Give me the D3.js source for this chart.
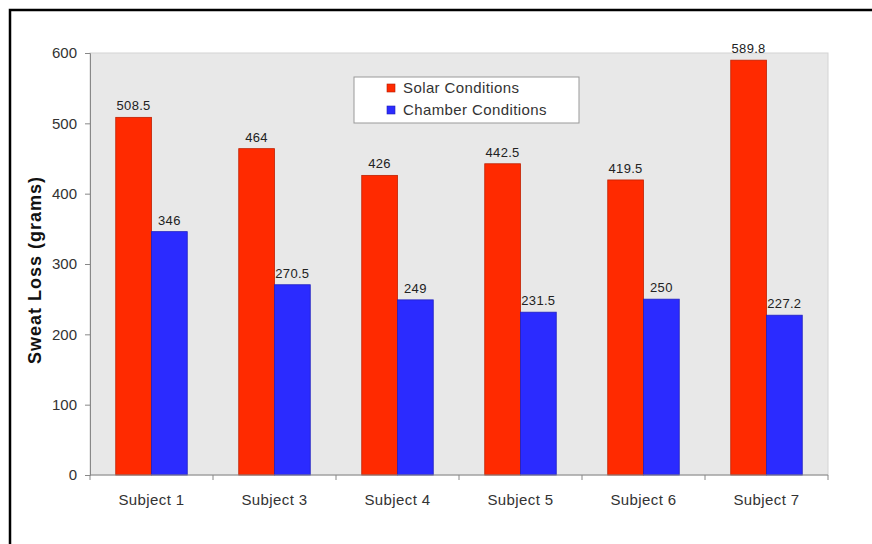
<!DOCTYPE html>
<html>
<head>
<meta charset="utf-8">
<script src="https://cdn.jsdelivr.net/npm/d3@7"></script>
<style>
  html, body { margin: 0; padding: 0; background: #fff; }
  svg { display: block; font-family: "Liberation Sans", Arial, sans-serif; }
</style>
</head>
<body>
<svg id="chart" width="872" height="544"></svg>
<script>
// Sweat loss per subject under two test conditions
const subjects = ["Subject 1", "Subject 3", "Subject 4", "Subject 5", "Subject 6", "Subject 7"];
const solarValues = [508.5, 464, 426, 442.5, 419.5, 589.8];
const chamberValues = [346, 270.5, 249, 231.5, 250, 227.2];
const seriesNames = ["Solar Conditions", "Chamber Conditions"];
const yTicks = [0, 100, 200, 300, 400, 500, 600];

const colors = { "Solar Conditions": "#ff2a00", "Chamber Conditions": "#2b2bff" };

const svg = d3.select("#chart");
const m = { left: 90, top: 53, right: 828, bottom: 475 };

// Outer frame (left and top edges)
svg.append("path")
  .attr("d", "M10,544 L10,10 L872,10")
  .attr("fill", "none").attr("stroke", "#000").attr("stroke-width", 2.5);

const x = d3.scaleBand().domain(subjects).range([m.left, m.right]).paddingInner(0).paddingOuter(0);
const xInner = d3.scaleBand().domain(seriesNames).range([0, x.bandwidth()]).paddingInner(0).paddingOuter(0.72);
const y = d3.scaleLinear().domain([0, 600]).range([m.bottom, m.top]);

// Plot area background
svg.append("rect")
  .attr("x", m.left).attr("y", m.top)
  .attr("width", m.right - m.left).attr("height", m.bottom - m.top)
  .attr("fill", "#e8e8e8").attr("stroke", "#d4d4d4").attr("stroke-width", 1);

// Bars
const data = subjects.map((s, i) => ({ subject: s, values: [
  { name: seriesNames[0], value: solarValues[i] },
  { name: seriesNames[1], value: chamberValues[i] }
]}));

const groups = svg.append("g").selectAll("g").data(data).join("g")
  .attr("transform", d => `translate(${x(d.subject)},0)`);

groups.selectAll("rect").data(d => d.values).join("rect")
  .attr("x", d => xInner(d.name))
  .attr("y", d => y(d.value))
  .attr("width", xInner.bandwidth())
  .attr("height", d => y(0) - y(d.value))
  .attr("fill", d => colors[d.name])
  .attr("stroke", d => d3.color(colors[d.name]).darker(0.8))
  .attr("stroke-width", 0.8);

groups.selectAll("text").data(d => d.values).join("text")
  .attr("x", d => xInner(d.name) + xInner.bandwidth() / 2)
  .attr("y", d => y(d.value) - 7)
  .attr("text-anchor", "middle")
  .attr("font-size", 13)
  .attr("letter-spacing", 0.3)
  .attr("fill", "#222")
  .text(d => String(d.value));

// Y axis
const yAxis = svg.append("g")
  .attr("transform", `translate(${m.left},0)`)
  .call(d3.axisLeft(y).tickValues(yTicks).tickSize(5).tickPadding(8));
yAxis.select(".domain").attr("stroke", "#888");
yAxis.selectAll(".tick line").attr("stroke", "#888");
yAxis.selectAll(".tick text").attr("font-size", 15).attr("fill", "#333")
  .attr("font-family", "Liberation Sans, Arial, sans-serif");

// X axis with ticks at category boundaries
const xAxis = svg.append("g").attr("transform", `translate(0,${m.bottom})`);
xAxis.append("line").attr("x1", m.left).attr("x2", m.right)
  .attr("stroke", "#888");
xAxis.selectAll(".bound").data(subjects.concat(["end"])).join("line")
  .attr("class", "bound")
  .attr("x1", (d, i) => i < subjects.length ? x(d) : m.right)
  .attr("x2", (d, i) => i < subjects.length ? x(d) : m.right)
  .attr("y1", 0).attr("y2", 5)
  .attr("stroke", "#888");
xAxis.selectAll("text").data(subjects).join("text")
  .attr("x", d => x(d) + x.bandwidth() / 2)
  .attr("y", 30)
  .attr("text-anchor", "middle")
  .attr("font-size", 15)
  .attr("letter-spacing", 0.4)
  .attr("fill", "#333")
  .text(d => d);

// Y axis title
svg.append("text")
  .attr("transform", "translate(41,270) rotate(-90)")
  .attr("text-anchor", "middle")
  .attr("font-size", 18)
  .attr("font-weight", "bold")
  .attr("letter-spacing", 1)
  .attr("fill", "#111")
  .text("Sweat Loss (grams)");

// Legend
const legend = svg.append("g").attr("transform", "translate(354,77)");
legend.append("rect").attr("width", 225).attr("height", 46)
  .attr("fill", "#fff").attr("stroke", "#999").attr("stroke-width", 1);
seriesNames.forEach((name, i) => {
  legend.append("rect").attr("x", 33).attr("y", 7 + i * 22).attr("width", 8).attr("height", 8)
    .attr("fill", colors[name]).attr("stroke", d3.color(colors[name]).darker(1)).attr("stroke-width", 0.6);
  legend.append("text").attr("x", 49).attr("y", 16 + i * 22)
    .attr("font-size", 15).attr("letter-spacing", 0.4).attr("fill", "#333").text(name);
});
</script>
</body>
</html>
